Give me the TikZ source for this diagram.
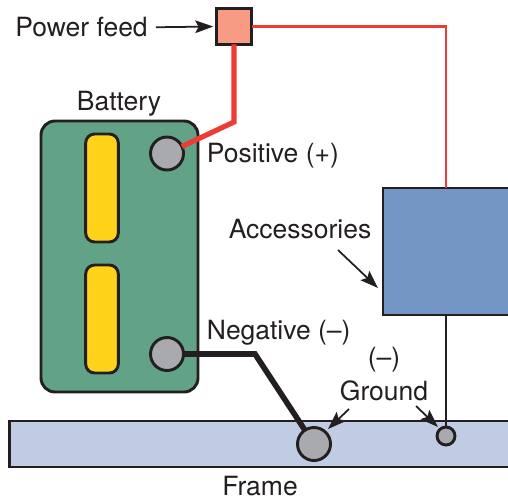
\documentclass[tikz,border=0pt]{standalone}
\usepackage{fontspec}
\setmainfont{TeX Gyre Heros}
\usetikzlibrary{arrows.meta}
\definecolor{inkdk}{RGB}{35,31,32}
\definecolor{wirered}{RGB}{238,59,51}
\definecolor{feedred}{RGB}{247,156,130}
\definecolor{batgreen}{RGB}{98,163,136}
\definecolor{celly}{RGB}{255,211,26}
\definecolor{termgr}{RGB}{169,170,173}
\definecolor{accblue}{RGB}{115,150,196}
\definecolor{frameb}{RGB}{192,204,228}
\tikzset{
  lbl/.style={font=\fontsize{22.6}{26}\selectfont,text=inkdk,inner sep=0pt},
  vbox/.style={draw=inkdk,line width=2.5pt,inner sep=0pt,outer sep=0pt},
  vbat/.style={vbox,fill=batgreen,rounded corners=0.42cm,minimum width=4.71cm,minimum height=8.13cm},
  vcell/.style={vbox,fill=celly,rounded corners=0.27cm,minimum width=0.98cm,minimum height=3.24cm},
  vterm/.style={vbox,circle,fill=termgr,minimum size=0.99cm},
  vgnd/.style={vbox,circle,fill=termgr,minimum size=0.54cm},
  ered/.style={draw=wirered,line width=4.4pt},
  eredt/.style={draw=wirered,line width=2.4pt},
  eblk/.style={draw=inkdk,line width=4.8pt},
  eblkt/.style={draw=inkdk,line width=2.2pt},
  elead/.style={-{Stealth[length=0.54cm,width=0.38cm,inset=0.1cm]},draw=inkdk,line width=1.5pt},
}
\begin{document}
\begin{tikzpicture}
\path[use as bounding box,clip] (0,0) rectangle (15.24,-15);
\node[vbox,fill=frameb,minimum width=15.615cm,minimum height=1.38cm] (chassis) at (8.09,-13.32) {};
\node[vbox,fill=accblue,minimum width=4.41cm,minimum height=3.81cm] (accbox) at (13.695,-7.545) {};
\node[vbox,fill=feedred,minimum size=1.065cm] (feed) at (7.02,-0.795) {};
\node[vbat] (bat) at (3.585,-7.695) {};
\node[vcell] (cell1) at (3.06,-5.64) {};
\node[vcell] (cell2) at (3.06,-9.57) {};
\node[vterm] (tpos) at (5.01,-4.605) {};
\node[vterm] (tneg) at (5.01,-10.62) {};
\node[vterm] (gbig) at (9.42,-13.32) {};
\node[vgnd] (gsmall) at (13.38,-13.08) {};
\node[lbl] (lfeed) at (2.445,-0.82) {Power feed};
\node[lbl] (lbat) at (3.57,-3.1) {Battery};
\node[lbl,anchor=west] (lpos) at (6.2,-4.68) {Positive (+)};
\node[lbl] (lacc) at (9,-6.87) {Accessories};
\node[lbl,anchor=west] (lneg) at (6.2,-9.98) {Negative (--)};
\node[lbl] (lminus) at (11.52,-10.8) {(--)};
\node[lbl] (lgnd) at (11.52,-11.73) {Ground};
\node[lbl] (lframe) at (7.8,-14.58) {Frame};
\coordinate (redbend) at (7.02,-3.66);
\coordinate (blkbend) at (7.65,-10.62);
\coordinate (thinbend) at (13.38,-0.795);
\coordinate (acca) at (10.14,-7.5);
\coordinate (accb) at (11.34,-8.64);
\coordinate (ga) at (10.47,-12.27);
\coordinate (gb) at (9.84,-12.87);
\coordinate (gc) at (12.48,-12.18);
\coordinate (gd) at (13.14,-12.81);
\draw[ered] (feed.south) -- (redbend) -- (tpos);
\draw[eredt] (feed.east) -- (thinbend) -- (thinbend |- accbox.north);
\draw[eblk] (tneg) -- (blkbend) -- (gbig);
\draw[eblkt] (gsmall |- accbox.south) -- (gsmall);
\draw[elead,shorten <=0.24cm,shorten >=0.09cm] (lfeed.east) -- (feed.west);
\draw[elead] (acca) -- (accb);
\draw[elead] (ga) -- (gb);
\draw[elead] (gc) -- (gd);
\end{tikzpicture}
\end{document}
